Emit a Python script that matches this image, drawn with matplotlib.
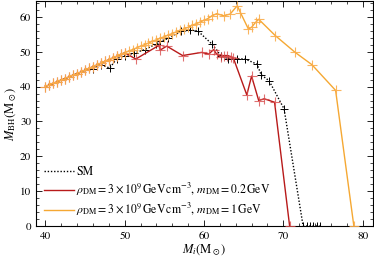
import matplotlib
matplotlib.use("Agg")
import matplotlib.pyplot as plt
from matplotlib.ticker import MultipleLocator

plt.rcParams['font.family'] = 'STIXGeneral'
plt.rcParams['mathtext.fontset'] = 'stix'

# SM
x_sm = [40.0, 40.5, 41.0, 41.5, 42.0, 42.5, 43.0, 43.5, 44.0, 44.5, 45.0, 45.5,
        46.0, 47.0, 48.1, 49.0, 50.0, 51.2, 52.5, 54.0, 54.5, 55.5, 57.1, 58.2, 59.2,
        61.0, 62.1, 63.0, 64.1, 65.2, 66.7, 67.2, 68.2, 70.1,
        72.5, 73.0, 73.4, 73.8, 74.2, 74.6]
y_sm = [40.0, 40.5, 40.9, 41.4, 41.9, 42.3, 42.8, 43.3, 43.7, 44.2, 44.7, 45.2,
        45.1, 46.3, 45.3, 48.0, 48.9, 49.6, 50.6, 52.2, 53.0, 53.8, 55.9, 56.2, 56.0,
        52.2, 48.9, 48.0, 48.0, 47.9, 46.4, 43.4, 41.7, 33.6,
        0, 0, 0, 0, 0, 0]

# rho = 3e9, m = 0.2 GeV
x_red = [40.0, 40.5, 41.0, 41.5, 42.0, 42.5, 43.0, 43.5, 44.0, 44.5, 45.0, 45.5,
         46.0, 46.5, 47.0, 47.5, 48.0, 48.5, 49.0, 49.5, 50.0,
         51.4, 54.3, 54.5, 55.3, 57.3, 59.7, 60.6, 61.2, 61.6, 62.1, 62.5, 62.9,
         63.4, 63.7, 65.4, 66.0, 66.9, 67.6, 68.9, 70.8]
y_red = [40.0, 40.5, 40.9, 41.4, 41.9, 42.3, 42.8, 43.3, 43.7, 44.2, 44.7, 45.2,
         45.7, 46.2, 46.7, 47.2, 47.7, 48.2, 48.7, 49.2, 49.7,
         47.9, 51.8, 50.5, 51.6, 48.9, 49.8, 49.3, 50.6, 49.3, 48.6, 48.9, 48.9,
         48.6, 48.2, 37.6, 43.0, 36.0, 36.5, 35.5, 0]

# rho = 3e9, m = 1 GeV
x_org = [40.0, 40.5, 41.0, 41.5, 42.0, 42.5, 43.0, 43.5, 44.0, 44.5, 45.0, 45.5,
         46.0, 46.5, 47.0, 47.5, 48.0, 48.5, 49.0, 49.5, 50.0, 50.5, 51.0, 51.5,
         52.0, 52.5, 53.0, 53.5, 54.0, 54.5, 55.0, 55.5, 56.0, 56.5, 57.0, 57.5,
         58.0, 58.5, 59.0, 59.5, 60.0, 60.5, 61.0, 61.6,
         62.5, 63.3, 64.2, 64.6, 65.6, 66.0, 66.5, 66.9, 69.0, 71.5, 73.6, 76.6, 78.9]
y_org = [40.0, 40.5, 40.9, 41.4, 41.9, 42.3, 42.8, 43.3, 43.7, 44.2, 44.7, 45.2,
         45.7, 46.2, 46.7, 47.2, 47.7, 48.2, 48.7, 49.2, 49.7, 50.2, 50.6, 51.1,
         51.6, 52.0, 52.5, 53.0, 53.4, 53.9, 54.3, 54.8, 55.2, 55.7, 56.1, 56.6,
         57.0, 57.6, 58.0, 58.5, 59.0, 59.5, 60.3, 60.9,
         60.3, 60.8, 63.2, 61.2, 56.5, 57.0, 58.4, 59.3, 54.6, 49.8, 46.3, 38.9, 0]

red = (0.72, 0.1, 0.1)
orange = (0.96, 0.66, 0.2)

fig = plt.figure(figsize=(3.74, 2.65), dpi=100)
ax = fig.add_axes([0.096, 0.147, 0.901, 0.85])

ax.plot(x_sm, y_sm, color='k', lw=1.0, dashes=(1, 1.3), marker='+', ms=6, mew=0.7,
        label='SM', zorder=2)
ax.plot(x_red, y_red, color=red, lw=1.0, marker='+', ms=7, mew=0.8,
        mec=(0.85, 0.3, 0.3, 0.8), zorder=3,
        label=r'$\rho_{\rm DM}=3\times10^9\,{\rm GeV\,cm^{-3}}$, $m_{\rm DM}=0.2\,{\rm GeV}$')
ax.plot(x_org, y_org, color=orange, lw=1.0, marker='+', ms=7, mew=0.8,
        mec=(0.98, 0.68, 0.3, 0.9), zorder=4,
        label=r'$\rho_{\rm DM}=3\times10^9\,{\rm GeV\,cm^{-3}}$, $m_{\rm DM}=1\,{\rm GeV}$')

ax.set_xlim(38.8, 81.3)
ax.set_ylim(0, 64.6)
ax.xaxis.set_major_locator(MultipleLocator(10))
ax.xaxis.set_minor_locator(MultipleLocator(2))
ax.yaxis.set_major_locator(MultipleLocator(10))
ax.yaxis.set_minor_locator(MultipleLocator(2))
ax.tick_params(which='both', direction='in', top=True, right=True, labelsize=8)
ax.tick_params(which='major', length=4, width=0.6)
ax.tick_params(which='minor', length=2, width=0.5)
for s in ax.spines.values():
    s.set_linewidth(0.8)

ax.set_xlabel(r'$M_i({\rm M_\odot})$', fontsize=9, labelpad=2)
ax.set_ylabel(r'$M_{\rm BH}({\rm M_\odot})$', fontsize=9, labelpad=1)

leg = ax.legend(loc='lower left', frameon=False, fontsize=8.5, handlelength=2.5,
                handletextpad=0.2, labelspacing=0.25, borderaxespad=0.3,
                markerscale=0.0)

fig.savefig('out.png', dpi=100)
